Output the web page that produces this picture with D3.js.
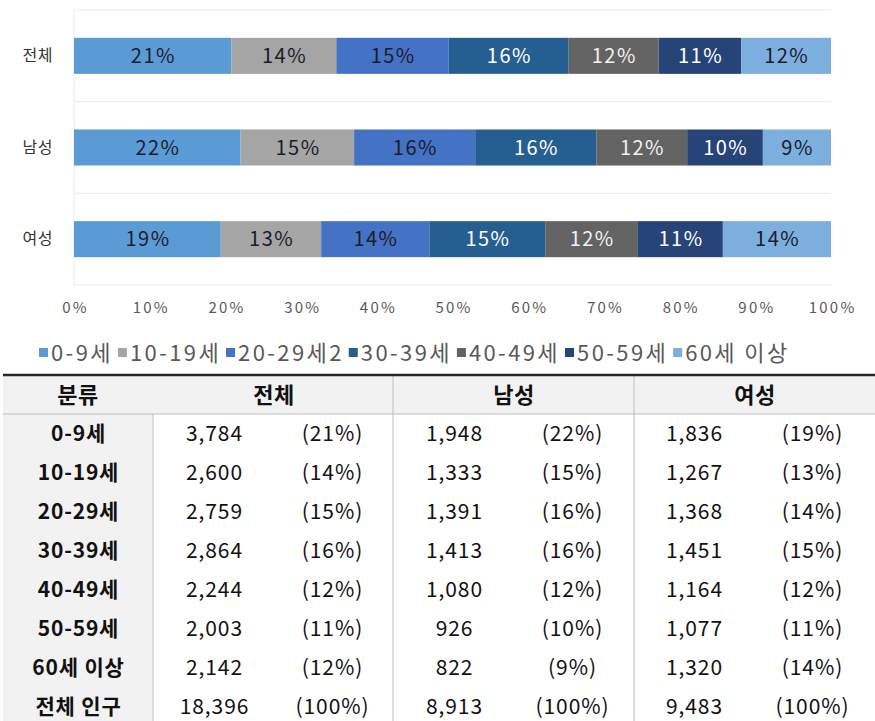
<!DOCTYPE html>
<html><head><meta charset="utf-8">
<script src="https://cdn.jsdelivr.net/npm/d3@7"></script>
<style>
html,body{margin:0;padding:0;background:#fff;}
svg{display:block;font-family:"Noto Sans CJK KR","Noto Sans",sans-serif;}
</style></head>
<body><svg id="c" width="875" height="721"></svg>
<script>
const categories = ['전체','남성','여성'];
const ageGroups = ['0-9세','10-19세','20-29세','30-39세','40-49세','50-59세','60세 이상'];
const legendLabels = ['0-9세','10-19세','20-29세2','30-39세','40-49세','50-59세','60세 이상'];
const pctTotal  = [21,14,15,16,12,11,12];
const pctMale   = [22,15,16,16,12,10,9];
const pctFemale = [19,13,14,15,12,11,14];
const cntTotal  = [3784,2600,2759,2864,2244,2003,2142];
const cntMale   = [1948,1333,1391,1413,1080,926,822];
const cntFemale = [1836,1267,1368,1451,1164,1077,1320];
const sumTotal = 18396, sumMale = 8913, sumFemale = 9483;
const xTicks = [0,0.1,0.2,0.3,0.4,0.5,0.6,0.7,0.8,0.9,1];
const tableHeaders = ['분류','전체','남성','여성'];
const totalRowLabel = '전체 인구';
const colors = ['#5b9bd5','#a5a5a5','#4472c4','#255e91','#636363','#264478','#7cafdd'];
const textColors = ['#1b1b2b','#1b1b2b','#1b1b2b','#ffffff','#f2f2f2','#ffffff','#1b1b2b'];

const svg = d3.select('#c');
const pctByCat = [pctTotal, pctMale, pctFemale];
const rows = categories.map((c,i)=>{const o={cat:c}; ageGroups.forEach((g,j)=>o[g]=pctByCat[i][j]); return o;});
const series = d3.stack().keys(ageGroups).offset(d3.stackOffsetExpand)(rows);

const x = d3.scaleLinear().domain([0,1]).range([74,831]);
const y = d3.scaleBand().domain(categories).range([10,285]).paddingInner(0.607).paddingOuter(0.3035);

// gridlines
const bounds = [10, 10+275/3, 10+2*275/3, 285];
svg.append('g').selectAll('line').data(bounds).join('line')
  .attr('x1',x(0)).attr('x2',x(1)).attr('y1',d=>d).attr('y2',d=>d)
  .attr('stroke','#ebebeb').attr('stroke-width',1);
svg.append('line').attr('x1',x(0)).attr('x2',x(0)).attr('y1',10).attr('y2',285)
  .attr('stroke','#ebebeb');

// bars
const gs = svg.append('g').selectAll('g').data(series).join('g').attr('fill',(d,i)=>colors[i]);
gs.selectAll('rect').data(d=>d).join('rect')
  .attr('x',d=>x(d[0])).attr('width',d=>x(d[1])-x(d[0]))
  .attr('y',d=>y(d.data.cat)).attr('height',y.bandwidth());
series.forEach((s,i)=>{
  svg.append('g').selectAll('text').data(s).join('text')
    .attr('x',d=>(x(d[0])+x(d[1]))/2+0.7).attr('y',d=>y(d.data.cat)+y.bandwidth()/2)
    .attr('dy','0.36em').attr('text-anchor','middle')
    .attr('font-size',20).attr('letter-spacing',1.5).attr('fill',textColors[i])
    .text(d=>d.data[s.key]+'%');
});

// axes
const xa = svg.append('g').attr('transform','translate(0,285)')
  .call(d3.axisBottom(x).tickValues(xTicks).tickFormat(d3.format('.0%')).tickSize(0).tickPadding(17));
xa.select('.domain').remove();
xa.selectAll('text').attr('font-size',15).attr('letter-spacing',2.2).attr('dx',1.1).attr('fill','#595959').attr('font-family','"Noto Sans CJK KR",sans-serif');
const ya = svg.append('g').attr('transform','translate(74,0)')
  .call(d3.axisLeft(y).tickSize(0).tickPadding(21));
ya.select('.domain').remove();
ya.selectAll('text').attr('font-size',16).attr('letter-spacing',0.5).attr('fill','#333').attr('font-family','"Noto Sans CJK KR",sans-serif');

// legend
const lg = svg.append('g').attr('transform','translate(0,353)');
let lx = 39;
legendLabels.forEach((l,i)=>{
  lg.append('rect').attr('x',lx).attr('y',-5).attr('width',9).attr('height',9).attr('fill',colors[i]);
  const t = lg.append('text').attr('x',lx+12).attr('y',0).attr('dy','0.36em')
    .attr('font-size',22).attr('letter-spacing',2.4).attr('fill','#595959').text(l);
  lx += 12 + t.node().getComputedTextLength() + 5;
});

// table
const tTop = 375, hBottom = 414, rowY0 = 433, rowStep = 39;
svg.append('rect').attr('x',3).attr('y',tTop).attr('width',872).attr('height',hBottom-tTop).attr('fill','#f2f2f2');
svg.append('rect').attr('x',3).attr('y',hBottom).attr('width',150).attr('height',721-hBottom).attr('fill','#f2f2f2');
svg.append('line').attr('x1',3).attr('x2',875).attr('y1',hBottom).attr('y2',hBottom).attr('stroke','#bfbfbf');
[[153,hBottom],[393,tTop],[634,tTop]].forEach(([vx,vy])=>{
  svg.append('line').attr('x1',vx).attr('x2',vx).attr('y1',vy).attr('y2',721).attr('stroke','#bfbfbf');
});
svg.append('line').attr('x1',3).attr('x2',875).attr('y1',tTop).attr('y2',tTop).attr('stroke','#262626').attr('stroke-width',2.5);

const headerX = [78,274,514,755];
svg.append('g').selectAll('text').data(tableHeaders).join('text')
  .attr('x',(d,i)=>headerX[i]).attr('y',395).attr('dy','0.36em').attr('text-anchor','middle')
  .attr('font-size',22).attr('letter-spacing',0.5).attr('font-weight','bold').attr('fill','#111').text(d=>d);

const fmt = d3.format(',');
const bodyRows = ageGroups.map((g,i)=>[g, fmt(cntTotal[i]), '('+pctTotal[i]+'%)', fmt(cntMale[i]), '('+pctMale[i]+'%)', fmt(cntFemale[i]), '('+pctFemale[i]+'%)']);
bodyRows.push([totalRowLabel, fmt(sumTotal), '(100%)', fmt(sumMale), '(100%)', fmt(sumFemale), '(100%)']);
const colX = [78,214,332,454,572,694,812];
const tr = svg.append('g').selectAll('g').data(bodyRows).join('g')
  .attr('transform',(d,i)=>`translate(0,${rowY0+i*rowStep})`);
tr.selectAll('text').data(d=>d).join('text')
  .attr('x',(d,i)=>colX[i]+0.5).attr('dy','0.36em').attr('text-anchor','middle')
  .attr('font-size',21).attr('letter-spacing',(d,i)=>i===0?0.8:0.9)
  .attr('font-weight',(d,i)=>i===0?'bold':'normal')
  .attr('fill','#111').text(d=>d);
</script></body></html>
